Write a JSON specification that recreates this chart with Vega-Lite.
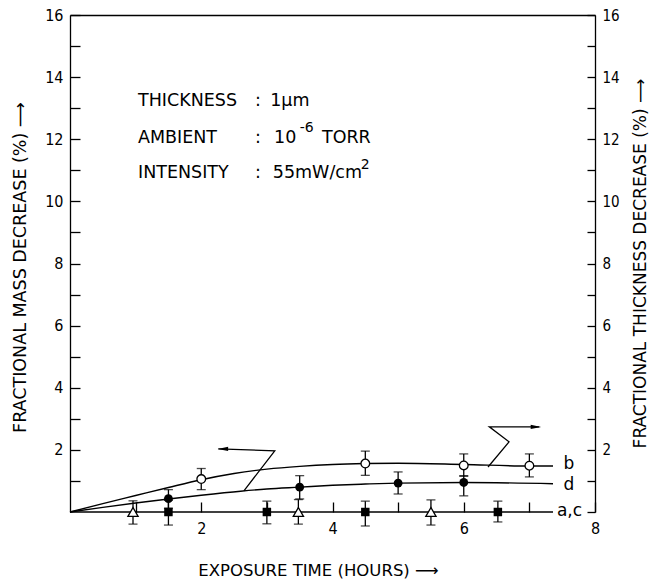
{
  "$schema": "https://vega.github.io/schema/vega-lite/v6.json",
  "width": 525,
  "height": 497,
  "autosize": "none",
  "padding": {"left": 70, "top": 15, "right": 62, "bottom": 72},
  "background": "white",
  "config": {
    "view": {"stroke": null},
    "font": "DejaVu Sans",
    "axis": {
      "grid": false,
      "domainColor": "black",
      "tickColor": "black",
      "labelColor": "black",
      "titleColor": "black",
      "labelFont": "DejaVu Sans Condensed, DejaVu Sans",
      "titleFont": "DejaVu Sans",
      "labelFontSize": 16,
      "titleFontSize": 16,
      "titleFontWeight": "normal",
      "domainWidth": 1.3,
      "tickWidth": 1.3,
      "labelOverlap": false,
      "labelFlush": false
    }
  },
  "datasets": {
    "curves": [
      {"s": "b", "x": 0, "y": 0}, {"s": "b", "x": 0.5, "y": 0.27}, {"s": "b", "x": 1, "y": 0.53}, {"s": "b", "x": 1.5, "y": 0.79}, {"s": "b", "x": 2, "y": 1.04}, {"s": "b", "x": 2.5, "y": 1.24}, {"s": "b", "x": 3, "y": 1.38}, {"s": "b", "x": 3.5, "y": 1.47}, {"s": "b", "x": 4, "y": 1.53}, {"s": "b", "x": 4.5, "y": 1.56}, {"s": "b", "x": 5, "y": 1.57}, {"s": "b", "x": 6, "y": 1.53}, {"s": "b", "x": 7, "y": 1.48}, {"s": "b", "x": 7.36, "y": 1.48},
      {"s": "d", "x": 0, "y": 0}, {"s": "d", "x": 0.5, "y": 0.15}, {"s": "d", "x": 1, "y": 0.29}, {"s": "d", "x": 1.5, "y": 0.42}, {"s": "d", "x": 2, "y": 0.54}, {"s": "d", "x": 2.6, "y": 0.67}, {"s": "d", "x": 3, "y": 0.74}, {"s": "d", "x": 3.5, "y": 0.8}, {"s": "d", "x": 4, "y": 0.86}, {"s": "d", "x": 4.5, "y": 0.9}, {"s": "d", "x": 5, "y": 0.93}, {"s": "d", "x": 6, "y": 0.95}, {"s": "d", "x": 7.36, "y": 0.91},
      {"s": "ac", "x": 0, "y": 0}, {"s": "ac", "x": 7.36, "y": 0}
    ],
    "pts": [
      {"s": "b", "x": 2, "y": 1.06, "lo": 0.72, "hi": 1.4},
      {"s": "b", "x": 4.5, "y": 1.56, "lo": 1.18, "hi": 1.96},
      {"s": "b", "x": 6, "y": 1.5, "lo": 1.15, "hi": 1.87},
      {"s": "b", "x": 7, "y": 1.49, "lo": 1.13, "hi": 1.87},
      {"s": "d", "x": 1.5, "y": 0.43, "lo": 0.12, "hi": 0.72},
      {"s": "d", "x": 3.5, "y": 0.8, "lo": 0.42, "hi": 1.17},
      {"s": "d", "x": 5, "y": 0.93, "lo": 0.58, "hi": 1.29},
      {"s": "d", "x": 6, "y": 0.95, "lo": 0.52, "hi": 1.17},
      {"s": "c", "x": 0.96, "y": 0, "lo": -0.39, "hi": 0.36},
      {"s": "c", "x": 3.48, "y": 0, "lo": -0.39, "hi": 0.4},
      {"s": "c", "x": 5.5, "y": 0, "lo": -0.42, "hi": 0.39},
      {"s": "a", "x": 1.5, "y": 0, "lo": -0.42, "hi": 0.38},
      {"s": "a", "x": 3, "y": 0, "lo": -0.38, "hi": 0.35},
      {"s": "a", "x": 4.5, "y": 0, "lo": -0.45, "hi": 0.35},
      {"s": "a", "x": 6.52, "y": 0, "lo": -0.32, "hi": 0.35}
    ],
    "arrows": [
      {"g": "L", "i": 0, "x": 2.26, "y": 2.03}, {"g": "L", "i": 1, "x": 3.12, "y": 1.97}, {"g": "L", "i": 2, "x": 2.65, "y": 0.68},
      {"g": "R", "i": 0, "x": 7.15, "y": 2.74}, {"g": "R", "i": 1, "x": 6.39, "y": 2.74}, {"g": "R", "i": 2, "x": 6.69, "y": 2.26}, {"g": "R", "i": 3, "x": 6.37, "y": 1.45}
    ],
    "heads": [
      {"g": "L", "x": 2.33, "y": 2.03},
      {"g": "R", "x": 7.1, "y": 2.74}
    ],
    "notes": [
      {"t": "THICKNESS", "x": 1.036, "y": 13.23},
      {"t": ":", "x": 2.82, "y": 13.23},
      {"t": "1µm", "x": 3.05, "y": 13.23},
      {"t": "AMBIENT", "x": 1.036, "y": 12.04},
      {"t": ":", "x": 2.82, "y": 12.04},
      {"t": "10", "x": 3.11, "y": 12.04},
      {"t": "TORR", "x": 3.84, "y": 12.04},
      {"t": "INTENSITY", "x": 1.036, "y": 10.91},
      {"t": ":", "x": 2.82, "y": 10.91},
      {"t": "55mW/cm", "x": 3.09, "y": 10.91}
    ],
    "sups": [
      {"t": "-6", "x": 3.5, "y": 12.36},
      {"t": "2", "x": 4.43, "y": 11.17}
    ],
    "labels": [
      {"t": "b", "x": 7.52, "y": 1.53},
      {"t": "d", "x": 7.52, "y": 0.88},
      {"t": "a,c", "x": 7.42, "y": 0.03}
    ]
  },
  "layer": [
    {
      "data": {"name": "curves"},
      "mark": {"type": "line", "color": "black", "strokeWidth": 1.4, "interpolate": "monotone"},
      "encoding": {
        "x": {
          "field": "x", "type": "quantitative",
          "scale": {"domain": [0, 8], "nice": false, "zero": false},
          "axis": {
            "orient": "bottom", "values": [1, 2, 3, 4, 5, 6, 7, 8],
            "labelExpr": "datum.value % 2 == 0 ? datum.label : ''",
            "domain": false, "tickSize": -10, "labelPadding": 18,
            "title": "EXPOSURE  TIME  (HOURS)  ⟶",
            "titleFontSize": 16.5,
            "titleX": 248, "titleY": 58, "titleBaseline": "middle", "titleAlign": "center"
          }
        },
        "y": {
          "field": "y", "type": "quantitative",
          "scale": {"domain": [0, 16], "nice": false},
          "axis": {
            "orient": "left", "values": [1, 2, 3, 4, 5, 6, 7, 8, 9, 10, 11, 12, 13, 14, 15, 16],
            "labelExpr": "datum.value % 2 == 0 ? datum.label : ''",
            "tickSize": -10, "labelPadding": 17,
            "title": "FRACTIONAL  MASS  DECREASE  (%)  ⟶",
            "titleFontSize": 17.5,
            "titleX": -50, "titleY": 252, "titleAngle": -90, "titleBaseline": "middle", "titleAlign": "center"
          }
        },
        "detail": {"field": "s"}
      }
    },
    {
      "data": {"name": "arrows"},
      "mark": {"type": "line", "color": "black", "strokeWidth": 1.3},
      "encoding": {
        "x": {
          "field": "x", "type": "quantitative",
          "axis": {"orient": "top", "ticks": false, "labels": false, "title": null, "domain": true}
        },
        "y": {
          "field": "y", "type": "quantitative",
          "axis": {
            "orient": "right", "values": [0, 1, 2, 3, 4, 5, 6, 7, 8, 9, 10, 11, 12, 13, 14, 15, 16],
            "labelExpr": "datum.value % 2 == 0 && datum.value > 0 ? datum.label : ''",
            "tickSize": -8, "labelPadding": 15, "labelFontSize": 15,
            "title": "FRACTIONAL  THICKNESS  DECREASE  (%)  ⟶",
            "titleFontSize": 17,
            "titleX": 45, "titleY": 248, "titleAngle": -90, "titleBaseline": "middle", "titleAlign": "center"
          }
        },
        "detail": {"field": "g"},
        "order": {"field": "i"}
      }
    },
    {
      "data": {"name": "heads"},
      "mark": {"type": "point", "filled": true, "color": "black", "size": 110, "opacity": 1},
      "encoding": {
        "x": {"field": "x", "type": "quantitative", "axis": null},
        "y": {"field": "y", "type": "quantitative", "axis": null},
        "shape": {"field": "g", "type": "nominal", "legend": null,
          "scale": {"domain": ["L", "R"], "range": ["M -1 0 L 1 -0.4 L 1 0.4 Z", "M 1 0 L -1 -0.4 L -1 0.4 Z"]}}
      }
    },
    {
      "data": {"name": "pts"},
      "mark": {"type": "errorbar", "ticks": {"size": 9}, "color": "black", "thickness": 1.3},
      "encoding": {
        "x": {"field": "x", "type": "quantitative", "axis": null},
        "y": {"field": "lo", "type": "quantitative", "axis": null},
        "y2": {"field": "hi"}
      }
    },
    {
      "data": {"name": "pts"},
      "transform": [{"filter": "datum.s == 'a'"}],
      "mark": {"type": "point", "shape": "square", "size": 72, "filled": true, "color": "black", "opacity": 1},
      "encoding": {
        "x": {"field": "x", "type": "quantitative", "axis": null},
        "y": {"field": "y", "type": "quantitative", "axis": null}
      }
    },
    {
      "data": {"name": "pts"},
      "transform": [{"filter": "datum.s == 'd'"}],
      "mark": {"type": "point", "shape": "circle", "size": 78, "filled": true, "color": "black", "opacity": 1},
      "encoding": {
        "x": {"field": "x", "type": "quantitative", "axis": null},
        "y": {"field": "y", "type": "quantitative", "axis": null}
      }
    },
    {
      "data": {"name": "pts"},
      "transform": [{"filter": "datum.s == 'b'"}],
      "mark": {"type": "point", "shape": "circle", "size": 75, "filled": false, "stroke": "black", "fill": "white", "fillOpacity": 1, "strokeWidth": 1.3, "opacity": 1},
      "encoding": {
        "x": {"field": "x", "type": "quantitative", "axis": null},
        "y": {"field": "y", "type": "quantitative", "axis": null}
      }
    },
    {
      "data": {"name": "pts"},
      "transform": [{"filter": "datum.s == 'c'"}],
      "mark": {"type": "point", "shape": "triangle-up", "size": 105, "filled": false, "stroke": "black", "fill": "white", "fillOpacity": 1, "strokeWidth": 1.3, "opacity": 1},
      "encoding": {
        "x": {"field": "x", "type": "quantitative", "axis": null},
        "y": {"field": "y", "type": "quantitative", "axis": null}
      }
    },
    {
      "data": {"name": "notes"},
      "mark": {"type": "text", "align": "left", "baseline": "middle", "fontSize": 17.5, "color": "black"},
      "encoding": {
        "x": {"field": "x", "type": "quantitative", "axis": null},
        "y": {"field": "y", "type": "quantitative", "axis": null},
        "text": {"field": "t"}
      }
    },
    {
      "data": {"name": "sups"},
      "mark": {"type": "text", "align": "left", "baseline": "middle", "fontSize": 14, "color": "black"},
      "encoding": {
        "x": {"field": "x", "type": "quantitative", "axis": null},
        "y": {"field": "y", "type": "quantitative", "axis": null},
        "text": {"field": "t"}
      }
    },
    {
      "data": {"name": "labels"},
      "mark": {"type": "text", "align": "left", "baseline": "middle", "fontSize": 17, "color": "black"},
      "encoding": {
        "x": {"field": "x", "type": "quantitative", "axis": null},
        "y": {"field": "y", "type": "quantitative", "axis": null},
        "text": {"field": "t"}
      }
    }
  ],
  "resolve": {"axis": {"x": "independent", "y": "independent"}}
}
